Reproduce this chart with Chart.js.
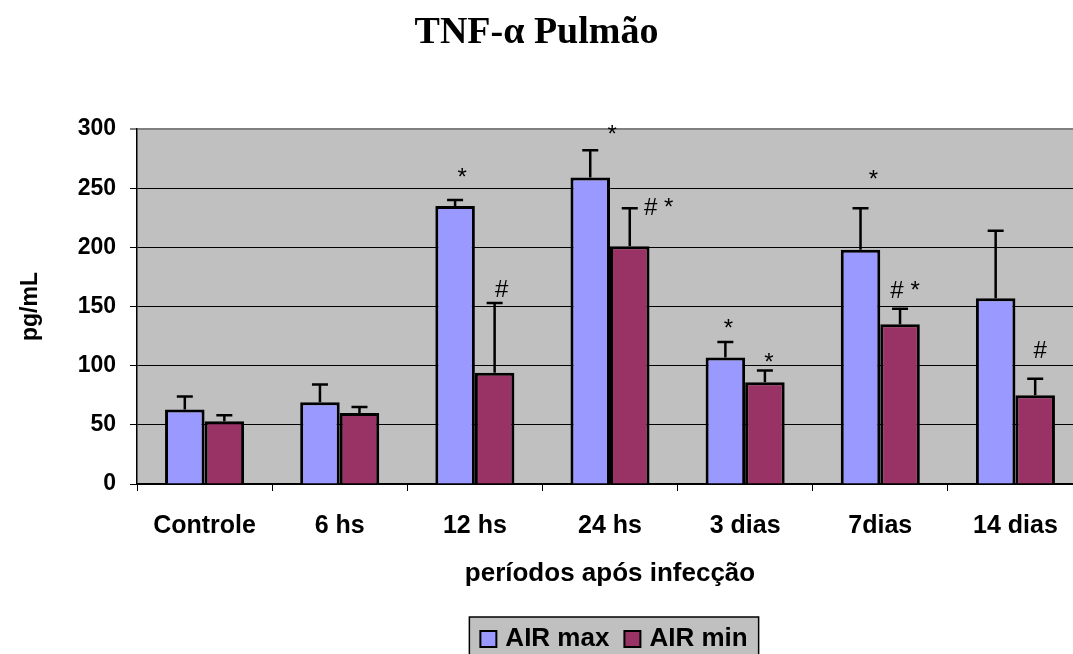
<!DOCTYPE html>
<html>
<head>
<meta charset="utf-8">
<script src="https://cdn.jsdelivr.net/npm/chart.js@4"></script>
<style>
  html, body { margin: 0; padding: 0; background: #fff; }
  #wrap { width: 1073px; height: 654px; overflow: hidden; position: relative; }
</style>
</head>
<body>
<div id="wrap"><canvas id="tnfChart" width="1100" height="654"></canvas></div>
<script>
// Values
const categories = ["Controle", "6 hs", "12 hs", "24 hs", "3 dias", "7dias", "14 dias"];
const airMax = [63, 69, 235, 259, 107, 198, 157];
const airMaxErr = [11, 15, 5, 23, 13, 35, 57];
const airMin = [53, 60, 94, 201, 86, 135, 75];
const airMinErr = [5, 5, 59, 32, 10, 13, 14];

// significance marks above the bars
const marksMax = ["", "", "*", "*", "*", "*", ""];
const marksMin = ["", "", "#", "# *", "*", "# *", "#"];
// where each mark sits, relative to the top of its error bar
const markOffsetMax = [null, null, [7, -22], [22, -15], [3, -13], [13, -28], null];
const markOffsetMin = [null, null, [7, -13], [29, 0], [4, -7], [5, -17], [5, -27]];

const sans = "'Liberation Sans', Arial, sans-serif";
const serif = "'Liberation Serif', 'Times New Roman', serif";

// Gray plot background
const plotBackground = {
    id: "plotBackground",
    beforeDraw(chart) {
        const { ctx, chartArea: a } = chart;
        ctx.save();
        ctx.fillStyle = "#C0C0C0";
        ctx.fillRect(a.left, a.top, a.right - a.left, a.bottom - a.top);
        ctx.restore();
    }
};

// Error bars + marks
const errorBars = {
    id: "errorBars",
    afterDatasetsDraw(chart) {
        const { ctx } = chart;
        const y = chart.scales.y;
        chart.data.datasets.forEach((ds, i) => {
            const meta = chart.getDatasetMeta(i);
            meta.data.forEach((bar, j) => {
                const topY = y.getPixelForValue(ds.data[j] + ds.errors[j]);
                ctx.save();
                ctx.strokeStyle = "#000";
                ctx.lineWidth = 2.5;
                ctx.beginPath();
                ctx.moveTo(bar.x, bar.y);
                ctx.lineTo(bar.x, topY);
                ctx.moveTo(bar.x - 8, topY);
                ctx.lineTo(bar.x + 8, topY);
                ctx.stroke();

                const mark = ds.marks[j];
                const off = ds.markOffsets[j];
                if (mark && off) {
                    ctx.fillStyle = "#000";
                    ctx.font = "24px " + sans;
                    ctx.textAlign = "center";
                    ctx.textBaseline = "middle";
                    ctx.fillText(mark, bar.x + off[0], topY + off[1]);
                }
                ctx.restore();
            });
        });
    }
};

// Title and boxed legend
const decorations = {
    id: "decorations",
    afterDraw(chart) {
        const { ctx, chartArea: a } = chart;
        ctx.save();
        ctx.fillStyle = "#000";
        ctx.font = "bold 38px " + serif;
        ctx.textAlign = "center";
        ctx.textBaseline = "alphabetic";
        ctx.fillText("TNF-\u03b1 Pulm\u00e3o", 536.5, 43);

        // legend
        ctx.font = "bold 26px " + sans;
        const items = chart.data.datasets.map(ds => ({
            label: ds.label, color: ds.backgroundColor, w: ctx.measureText(ds.label).width
        }));
        const sq = 16, gap = 9, itemGap = 15, pad = 11;
        let total = pad * 2;
        items.forEach((it, k) => { total += sq + gap + it.w + (k ? itemGap : 0); });
        const cx = (a.left + a.right) / 2 + 4;
        const left = cx - total / 2;
        const top = 617, h = 42;
        ctx.fillStyle = "#C0C0C0";
        ctx.fillRect(left, top, total, h);
        ctx.strokeStyle = "#000";
        ctx.lineWidth = 1.5;
        ctx.strokeRect(left, top, total, h);

        let x = left + pad;
        const midY = 639;
        ctx.textAlign = "left";
        ctx.textBaseline = "middle";
        items.forEach((it, k) => {
            if (k) x += itemGap;
            ctx.fillStyle = it.color;
            ctx.fillRect(x, midY - sq / 2, sq, sq);
            ctx.lineWidth = 2;
            ctx.strokeRect(x, midY - sq / 2, sq, sq);
            x += sq + gap;
            ctx.fillStyle = "#000";
            ctx.fillText(it.label, x, midY);
            x += it.w;
        });
        ctx.restore();
    }
};

new Chart(document.getElementById("tnfChart"), {
    type: "bar",
    data: {
        labels: categories,
        datasets: [
            {
                label: "AIR max",
                data: airMax,
                errors: airMaxErr,
                marks: marksMax,
                markOffsets: markOffsetMax,
                backgroundColor: "#9999FF",
                borderColor: "#000",
                borderWidth: 3
            },
            {
                label: "AIR min",
                data: airMin,
                errors: airMinErr,
                marks: marksMin,
                markOffsets: markOffsetMin,
                backgroundColor: "#993366",
                borderColor: "#000",
                borderWidth: 3
            }
        ]
    },
    options: {
        responsive: false,
        animation: false,
        layout: { padding: { top: 129, right: 17, left: 0, bottom: 0 } },
        datasets: { bar: { categoryPercentage: 0.585, barPercentage: 1 } },
        plugins: {
            legend: { display: false },
            title: { display: false },
            tooltip: { enabled: false }
        },
        scales: {
            x: {
                afterFit(scale) { scale.height = 170; },
                grid: { drawOnChartArea: false, offset: true, tickLength: 7, color: "#000" },
                border: { color: "#000", width: 1.5 },
                ticks: { color: "#000", font: { family: sans, size: 25, weight: "bold" }, padding: 20 },
                title: {
                    display: true,
                    text: "períodos após infecção",
                    color: "#000",
                    font: { family: sans, size: 26, weight: "bold" },
                    padding: { top: 0, bottom: 65 }
                }
            },
            y: {
                min: 0,
                max: 300,
                afterFit(scale) { scale.width = 137; },
                grid: {
                    color: ctx => (ctx.tick && ctx.tick.value === 300 ? "#808080" : "#000"),
                    lineWidth: ctx => (ctx.tick && ctx.tick.value === 300 ? 2 : 1),
                    tickLength: 7
                },
                border: { color: "#000", width: 1.5 },
                ticks: { stepSize: 50, color: "#000", font: { family: sans, size: 23, weight: "bold" }, padding: 14 },
                title: {
                    display: true,
                    text: "pg/mL",
                    color: "#000",
                    font: { family: sans, size: 23, weight: "bold" },
                    padding: { top: 17, bottom: 0 }
                }
            }
        }
    },
    plugins: [plotBackground, errorBars, decorations]
});
</script>
</body>
</html>
